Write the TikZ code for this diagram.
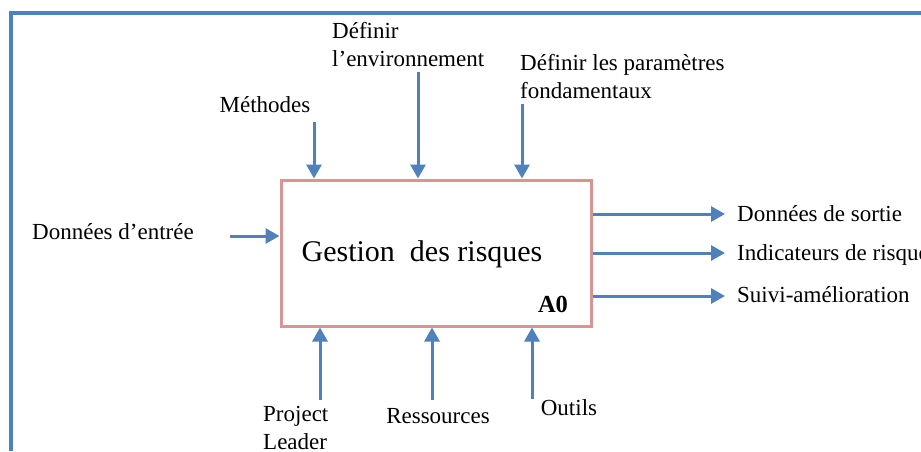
\documentclass[tikz,border=0pt]{standalone}
\usepackage{fontspec}
\setmainfont{Liberation Serif}
\usetikzlibrary{arrows.meta}
\definecolor{frameblue}{HTML}{4F81BD}
\definecolor{boxred}{HTML}{D99594}
\tikzset{
    frame_line/.style = {
        draw=frameblue,
        line width=3.5pt
    },
    box_line/.style = {
        draw=boxred,
        line width=3pt,
        minimum width=310pt,
        minimum height=146pt,
        inner sep=0pt
    },
    flow_arrow/.style = {
        draw=frameblue,
        line width=3pt,
        -{Triangle[width=15pt,length=14pt]}
    },
    label_text/.style = {
        inner sep=0pt,
        align=left,
        font=\fontsize{23}{27.5}\selectfont
    },
}
\begin{document}
\begin{tikzpicture}[x=1pt, y=-1pt]
                \useasboundingbox (0,0) rectangle (921,451);
                \path[frame_line] (11,451) -- (11,13) -- (921,13);

                \node[box_line] (gestion) at (436,253) {};
                \node[anchor=base, inner sep=0pt, font=\fontsize{30}{36}\selectfont] (titre) at (422,261) {Gestion\ \ des risques};
                \node[anchor=base, inner sep=0pt, font=\fontsize{24.5}{29}\selectfont\bfseries] (code) at (553,312) {A0};

                \begin{scope}
                    \node[label_text, anchor=base] (methodes) at (265,112) {Méthodes};
                    \node[label_text, anchor=base west] (environnement) at (332,66) {Définir\\l’environnement};
                    \node[label_text, anchor=base west] (parametres) at (520,98) {Définir les paramètres\\fondamentaux};
                    \coordinate (methodes_in) at (314,122);
                    \coordinate (environnement_in) at (418,72);
                    \coordinate (parametres_in) at (522,104);
                    \draw[flow_arrow] (methodes_in) -- (methodes_in |- gestion.north);
                    \draw[flow_arrow] (environnement_in) -- (environnement_in |- gestion.north);
                    \draw[flow_arrow] (parametres_in) -- (parametres_in |- gestion.north);
                \end{scope}

                \begin{scope}
                    \node[label_text, anchor=base] (entree) at (113,239) {Données d’entrée};
                    \coordinate (entree_in) at (230,236);
                    \draw[flow_arrow] (entree_in) -- (entree_in -| gestion.west);
                \end{scope}

                \begin{scope}
                    \node[label_text, anchor=base west] (sortie) at (737,221) {Données de sortie};
                    \node[label_text, anchor=base west] (indicateurs) at (737,260) {Indicateurs de risques};
                    \node[label_text, anchor=base west] (suivi) at (737,302) {Suivi-amélioration};
                    \coordinate (sortie_out) at (725,214);
                    \coordinate (indicateurs_out) at (725,253);
                    \coordinate (suivi_out) at (725,296);
                    \draw[flow_arrow] (gestion.east |- sortie_out) -- (sortie_out);
                    \draw[flow_arrow] (gestion.east |- indicateurs_out) -- (indicateurs_out);
                    \draw[flow_arrow] (gestion.east |- suivi_out) -- (suivi_out);
                \end{scope}

                \begin{scope}
                    \node[label_text, anchor=base west] (leader) at (263,449) {Project\\Leader};
                    \node[label_text, anchor=base] (ressources) at (438,423) {Ressources};
                    \node[label_text, anchor=base] (outils) at (569,415) {Outils};
                    \coordinate (leader_in) at (320,400);
                    \coordinate (ressources_in) at (432,400);
                    \coordinate (outils_in) at (532,399);
                    \draw[flow_arrow] (leader_in) -- (leader_in |- gestion.south);
                    \draw[flow_arrow] (ressources_in) -- (ressources_in |- gestion.south);
                    \draw[flow_arrow] (outils_in) -- (outils_in |- gestion.south);
                \end{scope}
            \end{tikzpicture}
\end{document}
